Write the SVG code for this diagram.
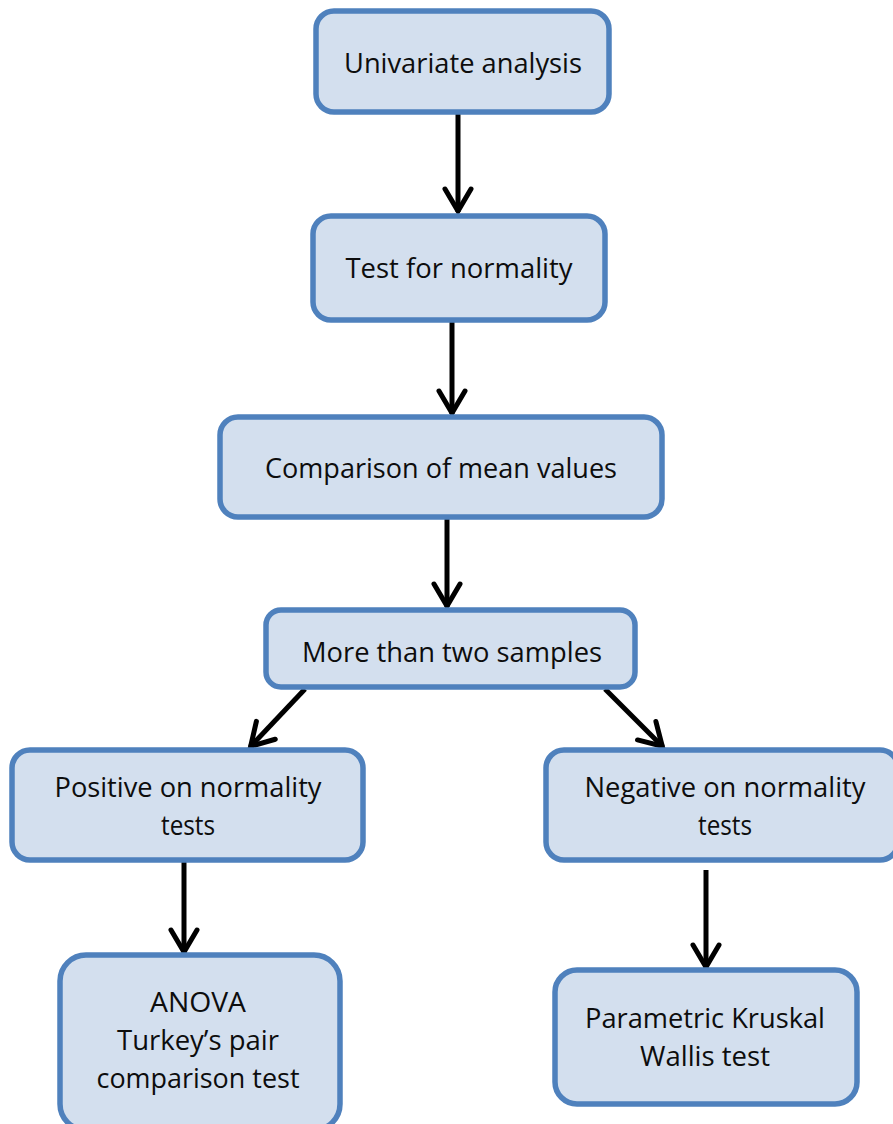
<svg xmlns="http://www.w3.org/2000/svg" width="893" height="1124" viewBox="0 0 893 1124">
  <style>
    .box { fill: #d3dfee; stroke: #4f81bd; stroke-width: 5.5; }
    .lbl { font-family: "Open Sans", "Liberation Sans", sans-serif; font-size: 28px; fill: #0d0d0d; text-anchor: middle; }
    .edge { stroke: #000; stroke-width: 5; fill: none; marker-end: url(#head); }
  </style>
  <defs>
    <marker id="head" markerUnits="userSpaceOnUse" markerWidth="60" markerHeight="60" refX="0" refY="0" viewBox="-30 -30 60 60" orient="auto">
      <path d="M -23 -13 L -1 0 L -23 13" fill="none" stroke="#000" stroke-width="5" stroke-linecap="round" stroke-linejoin="miter"/>
    </marker>
  </defs>

  <g id="connectors">
    <line class="edge" x1="458" y1="114" x2="458" y2="212"/>
    <line class="edge" x1="452" y1="321" x2="452" y2="414"/>
    <line class="edge" x1="447" y1="519" x2="447" y2="607"/>
    <line class="edge" x1="305" y1="689" x2="250" y2="747"/>
    <line class="edge" x1="605" y1="689" x2="663" y2="747"/>
    <line class="edge" x1="184" y1="862" x2="184" y2="953"/>
    <line class="edge" x1="706" y1="870" x2="706" y2="968"/>
  </g>

  <g id="n-univariate">
    <rect class="box" x="316" y="11" width="293" height="101" rx="18"/>
    <text class="lbl" x="463" y="73" textLength="238" lengthAdjust="spacingAndGlyphs">Univariate analysis</text>
  </g>
  <g id="n-normality">
    <rect class="box" x="313" y="216" width="292" height="104" rx="18"/>
    <text class="lbl" x="459" y="278" textLength="227" lengthAdjust="spacingAndGlyphs">Test for normality</text>
  </g>
  <g id="n-comparison">
    <rect class="box" x="220" y="417" width="442" height="100" rx="18"/>
    <text class="lbl" x="441" y="478" textLength="352" lengthAdjust="spacingAndGlyphs">Comparison of mean values</text>
  </g>
  <g id="n-samples">
    <rect class="box" x="266" y="610" width="369" height="77" rx="15"/>
    <text class="lbl" x="452" y="662" textLength="300" lengthAdjust="spacingAndGlyphs">More than two samples</text>
  </g>
  <g id="n-positive">
    <rect class="box" x="12" y="750" width="351" height="110" rx="18"/>
    <text class="lbl" x="188" y="797" textLength="267" lengthAdjust="spacingAndGlyphs">Positive on normality</text>
    <text class="lbl" x="188" y="835" textLength="54" lengthAdjust="spacingAndGlyphs">tests</text>
  </g>
  <g id="n-negative">
    <rect class="box" x="546" y="750" width="352" height="110" rx="18"/>
    <text class="lbl" x="725" y="797" textLength="281" lengthAdjust="spacingAndGlyphs">Negative on normality</text>
    <text class="lbl" x="725" y="835" textLength="54" lengthAdjust="spacingAndGlyphs">tests</text>
  </g>
  <g id="n-anova">
    <rect class="box" x="60" y="955" width="280" height="175" rx="26"/>
    <text class="lbl" x="198" y="1012" textLength="96" lengthAdjust="spacingAndGlyphs">ANOVA</text>
    <text class="lbl" x="198" y="1050" textLength="162" lengthAdjust="spacingAndGlyphs">Turkey’s pair</text>
    <text class="lbl" x="198" y="1088" textLength="203" lengthAdjust="spacingAndGlyphs">comparison test</text>
  </g>
  <g id="n-kruskal">
    <rect class="box" x="555" y="970" width="302" height="134" rx="22"/>
    <text class="lbl" x="705" y="1028" textLength="240" lengthAdjust="spacingAndGlyphs">Parametric Kruskal</text>
    <text class="lbl" x="705" y="1066" textLength="130" lengthAdjust="spacingAndGlyphs">Wallis test</text>
  </g>
</svg>
